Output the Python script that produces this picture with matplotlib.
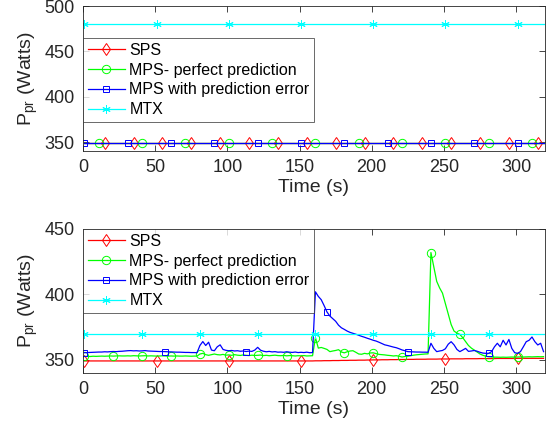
import numpy as np
import matplotlib
matplotlib.use('Agg')
import matplotlib.pyplot as plt

plt.rcParams['font.family'] = ['Liberation Sans', 'DejaVu Sans']
plt.rcParams['mathtext.default'] = 'regular'

# time grid (s), one sample every 2 s
t = np.arange(1, 320, 2)

labels = ['SPS', 'MPS- perfect prediction', 'MPS with prediction error', 'MTX']

# ---- top panel: constant levels (Watts)
top_sps = 349.5
top_mps = 349.5
top_err = 349.5
top_mtx = 480.0

# ---- bottom panel (Watts)
bot_mtx = 370.0

bot_sps = [349.2] * 80 + [
    349.3, 349.3, 349.3, 349.4, 349.4, 349.4, 349.5, 349.5, 349.5, 349.6,
    349.6, 349.6, 349.7, 349.7, 349.7, 349.8, 349.8, 349.8, 349.9, 349.9,
    350.0, 350.0, 350.0, 350.1, 350.1, 350.1, 350.2, 350.2, 350.2, 350.3,
    350.3, 350.3, 350.4, 350.4, 350.4, 350.5, 350.5, 350.5, 350.5, 350.6,
    350.6, 350.6, 350.6, 350.7, 350.7, 350.7, 350.7, 350.8, 350.8, 350.8,
    350.8, 350.8, 350.9, 350.9, 350.9, 350.9, 350.9, 351.0, 351.0, 351.0,
    351.0, 351.0, 351.0, 351.1, 351.1, 351.1, 351.1, 351.1, 351.1, 351.1,
    351.2, 351.2, 351.2, 351.2, 351.2, 351.2, 351.2, 351.2, 351.2, 351.2]

bot_mps = [
    # t 1..79
    352.6, 352.7, 352.6, 352.8, 352.7, 352.8, 352.9, 352.8, 352.9, 353.0,
    352.9, 353.0, 353.1, 353.0, 353.0, 353.1, 353.0, 353.2, 353.1, 353.0,
    353.1, 353.2, 353.0, 353.1, 353.0, 352.9, 353.0, 353.1, 353.0, 352.9,
    353.0, 352.9, 353.0, 352.9, 352.9, 353.0, 352.9, 352.8, 352.9, 352.9,
    # t 81..159
    354.5, 355.0, 354.0, 353.5, 354.0, 354.5, 354.0, 353.8, 354.2, 353.6,
    353.8, 353.5, 354.0, 353.6, 353.4, 353.8, 353.5, 353.3, 353.6, 353.4,
    353.5, 353.7, 353.3, 353.5, 353.2, 353.4, 353.6, 353.3, 353.2, 353.4,
    353.1, 353.3, 353.2, 353.0, 353.2, 353.1, 353.3, 353.0, 353.1, 353.2,
    # t 161..239
    367.0, 359.0, 359.5, 358.8, 358.0, 356.3, 356.8, 357.2, 357.8, 356.0,
    355.4, 356.2, 356.8, 357.0, 355.8, 354.5, 354.3, 355.0, 354.6, 355.3,
    355.4, 354.8, 354.2, 354.0, 353.8, 353.5, 353.3, 353.0, 353.2, 352.8,
    352.2, 352.6, 352.8, 353.2, 353.6, 353.9, 354.1, 354.3, 354.5, 354.6,
    # t 241..319
    432.0, 421.0, 410.0, 405.0, 401.0, 393.0, 385.0, 377.0, 372.0, 370.5,
    369.5, 367.0, 364.0, 361.0, 359.0, 357.5, 356.0, 354.5, 353.5, 352.8,
    352.4, 352.2, 352.1, 352.1, 352.0, 352.1, 352.0, 352.1, 352.2, 352.1,
    352.2, 352.3, 352.2, 352.3, 352.4, 352.3, 352.4, 352.5, 352.4, 352.5]

bot_err = [
    # t 1..79
    355.5, 355.6, 355.7, 355.8, 355.9, 356.0, 356.0, 356.2, 356.1, 356.3,
    356.4, 356.3, 356.5, 356.6, 356.8, 357.0, 357.1, 356.9, 357.0, 356.8,
    356.9, 357.1, 356.8, 356.7, 356.6, 356.5, 356.4, 356.4, 356.3, 356.2,
    356.1, 356.0, 355.9, 355.9, 355.8, 355.7, 355.7, 355.6, 355.6, 355.5,
    # t 81..159
    361.0, 364.0, 361.0, 363.5, 357.5, 357.0, 360.0, 361.5, 358.0, 357.3,
    357.0, 357.2, 356.8, 357.0, 356.6, 356.8, 356.4, 356.7, 356.5, 357.5,
    359.6, 357.4, 356.6, 356.2, 356.5, 356.1, 356.3, 355.9, 356.0, 355.8,
    356.2, 355.9, 355.7, 356.0, 355.6, 355.8, 355.6, 355.9, 355.5, 355.6,
    # t 161..239
    402.0, 398.5, 396.0, 391.5, 386.6, 383.5, 381.5, 379.5, 376.5, 374.5,
    373.3, 372.0, 371.0, 370.3, 369.6, 368.8, 368.0, 367.3, 366.5, 365.8,
    365.0, 364.4, 363.5, 362.5, 361.5, 361.0, 360.4, 359.8, 359.3, 358.5,
    357.6, 357.0, 356.3, 356.2, 356.1, 356.0, 356.0, 355.9, 355.9, 355.8,
    # t 241..319
    362.7, 358.8, 356.3, 356.8, 357.2, 358.5, 362.0, 363.9, 361.5, 358.0,
    356.3, 357.5, 358.8, 356.5, 356.8, 357.2, 356.6, 355.8, 355.2, 355.0,
    355.0, 356.3, 360.0, 362.7, 360.0, 365.0, 361.4, 365.6, 358.8, 355.5,
    355.0, 356.3, 360.0, 363.9, 365.0, 367.5, 363.9, 361.4, 362.7, 356.3]

colors = ['#ff0000', '#00ff00', '#0000ff', '#00ffff']
markers = ['d', 'o', 's', (6, 2, 0)]
msizes = [6, 6, 5, 6]


def style_ax(ax, yticks, ylim):
    ax.set_xlim(0, 320)
    ax.set_ylim(*ylim)
    ax.set_xticks([0, 50, 100, 150, 200, 250, 300])
    ax.set_yticks(yticks)
    ax.tick_params(direction='in', top=True, right=True, labelsize=13,
                   length=4, width=0.6, colors='#262626', pad=6)
    for s in ax.spines.values():
        s.set_color('#262626')
        s.set_linewidth(0.6)
    ax.set_xlabel('Time (s)', fontsize=14, color='#262626', labelpad=2)
    ax.set_ylabel('P$_{pr}$ (Watts)', fontsize=14, color='#262626', labelpad=3)


def draw(ax, series, marks):
    for y, c, m, ms, me, lab in zip(series, colors, markers, msizes, marks, labels):
        ax.plot(t, y, color=c, lw=0.9, marker=m, ms=ms, mfc='none', mec=c,
                mew=0.7, markevery=me, label=lab)


fig = plt.figure(figsize=(5.51, 4.33), dpi=100)
ax1 = fig.add_axes([0.1506, 0.651, 0.8385, 0.335])
ax2 = fig.add_axes([0.1506, 0.1386, 0.8385, 0.3326])

n = len(t)
top_series = [np.full(n, top_sps), np.full(n, top_mps), np.full(n, top_err), np.full(n, top_mtx)]
draw(ax1, top_series, [(7, 10), (5, 15), (0, 15), (0, 25)])
style_ax(ax1, [350, 400, 450, 500], (340, 500))

bot_series = [bot_sps, bot_mps, bot_err, np.full(n, bot_mtx)]
draw(ax2, bot_series, [(0, 25), (0, 10), (0, 28), (0, 20)])
style_ax(ax2, [350, 400, 450], (340, 450))

for ax, anchor in [(ax1, (0, 0.779)), (ax2, (0, 1.0))]:
    leg = ax.legend(loc='upper left', bbox_to_anchor=anchor, fontsize=11.5,
                    frameon=True, fancybox=False, borderaxespad=0,
                    handlelength=2.3, handletextpad=0.3, borderpad=0.3,
                    labelspacing=0.3)
    leg.get_frame().set_edgecolor('#262626')
    leg.get_frame().set_linewidth(0.6)

fig.savefig('out.png', dpi=100)
